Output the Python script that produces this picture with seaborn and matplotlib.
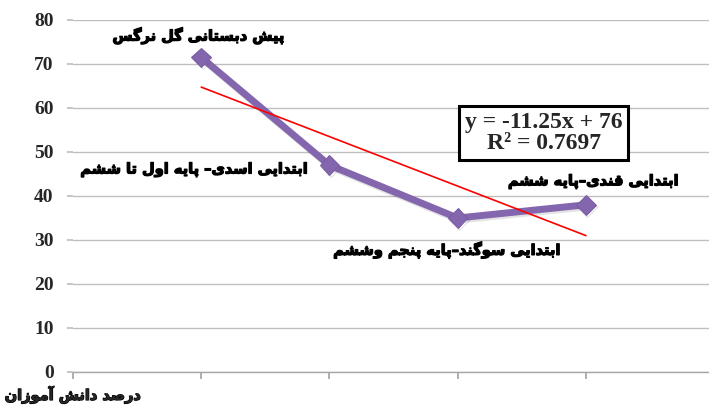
import numpy as np
import pandas as pd
import seaborn as sns
import matplotlib
matplotlib.use("Agg")
import matplotlib.pyplot as plt
import matplotlib.patheffects as pe

# ---- data ----
categories = ["پیش دبستانی گل نرگس",
              "ابتدایی اسدی– پایه اول تا ششم",
              "ابتدایی سوگند–پایه پنجم وششم",
              "ابتدایی قندی–پایه ششم"]
x_pos = [1, 2, 3, 4]
values = [71.5, 47, 35, 38]
y_ticks = [0, 10, 20, 30, 40, 50, 60, 70, 80]
y_axis_label = "درصد دانش آموزان"

# ---- simple Arabic/Persian shaping (presentation forms) ----
FORMS = {
    'ا': ('\uFE8D', '\uFE8E', None, None),
    'آ': ('\uFE81', '\uFE82', None, None),
    'ب': ('\uFE8F', '\uFE90', '\uFE91', '\uFE92'),
    'پ': ('\uFB56', '\uFB57', '\uFB58', '\uFB59'),
    'ت': ('\uFE95', '\uFE96', '\uFE97', '\uFE98'),
    'ج': ('\uFE9D', '\uFE9E', '\uFE9F', '\uFEA0'),
    'د': ('\uFEA9', '\uFEAA', None, None),
    'ر': ('\uFEAD', '\uFEAE', None, None),
    'ز': ('\uFEAF', '\uFEB0', None, None),
    'س': ('\uFEB1', '\uFEB2', '\uFEB3', '\uFEB4'),
    'ش': ('\uFEB5', '\uFEB6', '\uFEB7', '\uFEB8'),
    'ص': ('\uFEB9', '\uFEBA', '\uFEBB', '\uFEBC'),
    'ق': ('\uFED5', '\uFED6', '\uFED7', '\uFED8'),
    'گ': ('\uFB92', '\uFB93', '\uFB94', '\uFB95'),
    'ل': ('\uFEDD', '\uFEDE', '\uFEDF', '\uFEE0'),
    'م': ('\uFEE1', '\uFEE2', '\uFEE3', '\uFEE4'),
    'ن': ('\uFEE5', '\uFEE6', '\uFEE7', '\uFEE8'),
    'و': ('\uFEED', '\uFEEE', None, None),
    'ه': ('\uFEE9', '\uFEEA', '\uFEEB', '\uFEEC'),
    'ی': ('\uFBFC', '\uFBFD', '\uFBFE', '\uFBFF'),
}


def shape(s):
    out = []
    n = len(s)
    for i, ch in enumerate(s):
        if ch not in FORMS:
            out.append(ch)
            continue
        iso, fin, ini, med = FORMS[ch]
        prev_j = i > 0 and s[i - 1] in FORMS and FORMS[s[i - 1]][2] is not None
        next_j = ini is not None and i < n - 1 and s[i + 1] in FORMS
        if prev_j and next_j:
            out.append(med)
        elif prev_j:
            out.append(fin)
        elif next_j:
            out.append(ini)
        else:
            out.append(iso)
    return ''.join(out)[::-1]


# ---- figure ----
sns.set_theme(style="white")
plt.rcParams['font.family'] = ['DejaVu Sans']

fig = plt.figure(figsize=(7.09, 4.08), dpi=100)
ax = fig.add_axes([73 / 709, 1 - 372 / 408, 1 - 73 / 709, (372 - 20) / 408])

df = pd.DataFrame({"x": x_pos, "y": values, "label": categories})

sns.lineplot(data=df, x="x", y="y", ax=ax, color="#8466AE", linewidth=5,
             marker="D", markersize=10, markeredgecolor="#7A5CA3",
             zorder=4,
             path_effects=[pe.SimpleLineShadow(offset=(1, -1.5), alpha=0.12),
                           pe.Normal()])
sns.regplot(data=df, x="x", y="y", ax=ax, scatter=False, ci=None,
            truncate=True, color="#FF0000", line_kws={"linewidth": 1.2, "zorder": 5})

slope, intercept = np.polyfit(x_pos, values, 1)
pred = np.polyval([slope, intercept], x_pos)
r2 = 1 - np.sum((np.array(values) - pred) ** 2) / np.sum((np.array(values) - np.mean(values)) ** 2)

ax.set_xlim(0, 4.96)
ax.set_ylim(0, 80)
ax.set_yticks(y_ticks)
ax.set_yticklabels([str(v) for v in y_ticks], fontfamily="Liberation Serif",
                   fontweight="bold", fontsize=14)
ax.set_xticks([0, 1, 2, 3, 4])
ax.set_xticklabels([])
ax.set_xlabel("")
ax.set_ylabel("")
ax.yaxis.grid(True, color="#BFBFBF", linewidth=1)
ax.xaxis.grid(False)
ax.tick_params(axis="y", length=4, color="#BFBFBF", pad=10, left=True)
ax.tick_params(axis="x", length=5, color="#A6A6A6", bottom=True, direction="out")
for side in ["left", "top", "right"]:
    ax.spines[side].set_visible(False)
ax.spines["bottom"].set_color("#A6A6A6")
ax.spines["bottom"].set_linewidth(1)

# point labels (heavier look via thin stroke)
heavy = [pe.withStroke(linewidth=0.9, foreground="black")]
lab_kw = dict(fontsize=10.5, fontweight="bold", color="black", family=["DejaVu Sans"],
              zorder=6, path_effects=heavy)
ax.text(0.98, 76.4, shape(categories[0]), ha="center", va="center", **lab_kw)
ax.text(1.84, 45.9, shape(categories[1]), ha="right", va="center", **lab_kw)
ax.text(2.92, 27.7, shape(categories[2]), ha="center", va="center", **lab_kw)
ax.text(4.06, 43.2, shape(categories[3]), ha="center", va="center", **lab_kw)

# trendline equation
eq = f"y = {slope:.2f}x + {intercept:.0f}\nR² = {r2:.4f}"
ax.text(3.67, 54.3, eq, ha="center", va="center", fontsize=17,
        fontfamily="Liberation Serif", fontweight="bold", linespacing=1.0, zorder=7,
        bbox=dict(boxstyle="square,pad=0.25", facecolor="white", edgecolor="black", linewidth=2.2))

fig.text(73 / 709, 1 - 395 / 408, shape(y_axis_label), ha="center", va="center",
         fontsize=10.5, fontweight="bold", family=["DejaVu Sans"], path_effects=heavy)

fig.savefig("out.png", dpi=100, facecolor="white")
